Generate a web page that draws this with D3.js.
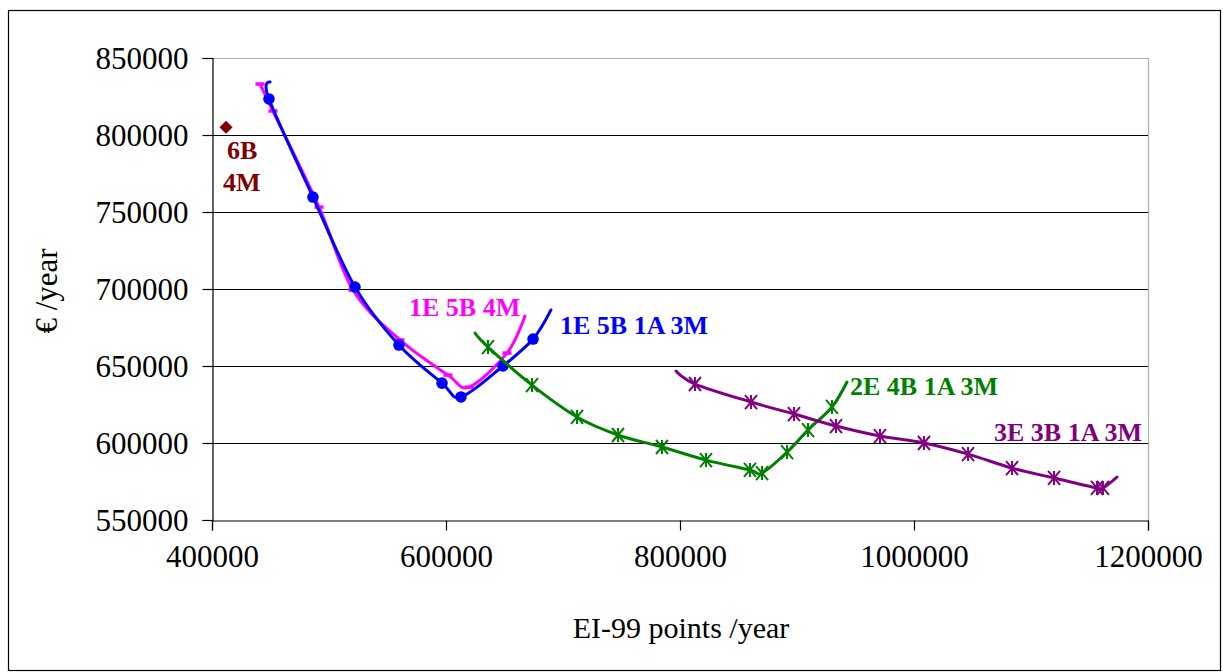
<!DOCTYPE html>
<html>
<head>
<meta charset="utf-8">
<script src="https://cdn.jsdelivr.net/npm/d3@7"></script>
<style>
  html, body { margin: 0; padding: 0; background: #fff; }
  svg { display: block; }
</style>
</head>
<body>
<svg id="chart" width="1223" height="672"></svg>
<script>
// ---- data ----
const xTicks = [400000, 600000, 800000, 1000000, 1200000];
const yTicks = [550000, 600000, 650000, 700000, 750000, 800000, 850000];

// 1E 5B 1A 3M
const blueX = [449600, 448700, 486300, 522200, 559800, 596600, 612800, 648700, 674400, 689700];
const blueY = [834400, 823400, 759700, 701300, 663600, 638900, 629900, 650000, 667500, 686400];
const blueMarked = [false, true, true, true, true, true, true, true, true, false];

// 1E 5B 4M
const pinkX = [441000, 452100, 491500, 520500, 560700, 601700, 619700, 652100, 667500];
const pinkY = [833100, 815600, 753200, 699300, 666900, 644100, 636300, 658400, 682500];
const pinkMarked = [true, true, true, true, true, true, true, true, false];

// 2E 4B 1A 3M
const greenX = [624800, 635900, 673500, 712000, 747000, 784600, 822200, 859800, 870100, 891500, 909400, 929900, 942700];
const greenY = [671400, 662300, 637600, 616900, 605200, 597400, 588900, 582500, 580500, 594100, 608400, 623400, 639600];
const greenMarked = [false, true, true, true, true, true, true, true, true, true, true, true, false];

// 3E 3B 1A 3M
const purpleX = [796600, 812800, 860700, 897400, 933300, 970900, 1008500, 1046200, 1083800, 1119700, 1156400, 1161500, 1173500];
const purpleY = [646700, 638300, 626600, 618800, 611000, 604500, 600000, 592800, 583700, 577300, 570800, 570800, 577900];
const purpleMarked = [false, true, true, true, true, true, true, true, true, true, true, true, false];

// 6B 4M (single configuration)
const singleX = [412000];
const singleY = [805000];

const seriesNames = ["1E 5B 1A 3M", "1E 5B 4M", "2E 4B 1A 3M", "3E 3B 1A 3M"];
const singleLabel = ["6B", "4M"];
const xTitle = "EI-99 points /year";
const yTitle = "€ /year";

const SERIF = "Liberation Serif, Times New Roman, serif";

// ---- layout ----
const svg = d3.select("#chart").attr("font-family", SERIF);
const plot = { left: 212, right: 1148, top: 58, bottom: 520 };

const x = d3.scaleLinear().domain([400000, 1200000]).range([plot.left, plot.right]);
const y = d3.scaleLinear().domain([550000, 850000]).range([plot.bottom, plot.top]);

// outer frame
svg.append("rect")
  .attr("x", 8.5).attr("y", 10.5)
  .attr("width", 1212).attr("height", 660)
  .attr("fill", "#fff").attr("stroke", "#000").attr("stroke-width", 1.2);

// horizontal gridlines
svg.append("g")
  .selectAll("line")
  .data(yTicks.filter(d => d !== 550000 && d !== 850000))
  .join("line")
  .attr("x1", plot.left).attr("x2", plot.right)
  .attr("y1", d => Math.round(y(d)) + 0.5).attr("y2", d => Math.round(y(d)) + 0.5)
  .attr("stroke", "#000").attr("stroke-width", 1);

// plot area border (top/right)
svg.append("path")
  .attr("d", `M${plot.left},${plot.top + 0.5}H${plot.right + 0.5}V${plot.bottom}`)
  .attr("fill", "none").attr("stroke", "#b0b0b0").attr("stroke-width", 1.2);

// axes
const xAxis = d3.axisBottom(x).tickValues(xTicks).tickSize(10).tickPadding(14)
  .tickFormat(d3.format("d"));
const yAxis = d3.axisLeft(y).tickValues(yTicks).tickSize(10).tickPadding(14)
  .tickFormat(d3.format("d"));

const gx = svg.append("g").attr("transform", `translate(0,${plot.bottom + 0.5})`).call(xAxis);
const gy = svg.append("g").attr("transform", `translate(${plot.left + 0.5},0)`).call(yAxis);

[gx, gy].forEach(g => {
  g.attr("font-family", SERIF);
  g.select(".domain").attr("stroke", "#000").attr("stroke-width", 1.2);
  g.selectAll(".tick line").attr("stroke", "#000").attr("stroke-width", 1.2);
  g.selectAll(".tick text")
    .attr("font-family", SERIF)
    .attr("font-size", 31).attr("fill", "#000");
});
gx.selectAll(".tick text").attr("dy", "0.71em");
gy.selectAll(".tick text").attr("dy", "0.34em");

// axis titles
svg.append("text")
  .attr("x", 681).attr("y", 638)
  .attr("text-anchor", "middle")
  .attr("font-family", SERIF)
  .attr("font-size", 30).attr("fill", "#000")
  .text(xTitle);

svg.append("text")
  .attr("transform", "translate(57,291) rotate(-90)")
  .attr("text-anchor", "middle")
  .attr("font-family", SERIF)
  .attr("font-size", 31).attr("fill", "#000")
  .text(yTitle);

// ---- series ----
const line = d3.line().x(d => x(d.x)).y(d => y(d.y)).curve(d3.curveCardinal.tension(0));

function pts(xs, ys, marked) {
  return xs.map((v, i) => ({ x: v, y: ys[i], m: marked[i] }));
}

const series = [
  { name: seriesNames[1], color: "#ff00ff", marker: "dash",     data: pts(pinkX, pinkY, pinkMarked) },
  { name: seriesNames[0], color: "#0000ff", marker: "circle",   data: pts(blueX, blueY, blueMarked) },
  { name: seriesNames[2], color: "#008000", marker: "asterisk", data: pts(greenX, greenY, greenMarked) },
  { name: seriesNames[3], color: "#800080", marker: "asterisk", data: pts(purpleX, purpleY, purpleMarked) }
];

const gSeries = svg.append("g");
series.forEach(s => {
  const g = gSeries.append("g");
  g.append("path")
    .attr("d", line(s.data))
    .attr("fill", "none").attr("stroke", s.color).attr("stroke-width", 3)
    .attr("stroke-linejoin", "round").attr("stroke-linecap", "round");

  const mk = g.selectAll("g.mk").data(s.data.filter(d => d.m)).join("g")
    .attr("class", "mk")
    .attr("transform", d => `translate(${x(d.x)},${y(d.y)})`);

  if (s.marker === "circle") {
    mk.append("circle").attr("r", 5.8).attr("fill", s.color);
  } else if (s.marker === "dash") {
    mk.append("line").attr("x1", -4.5).attr("x2", 4.5).attr("y1", 0).attr("y2", 0)
      .attr("stroke", s.color).attr("stroke-width", 3.5);
  } else {
    const r = 7, dx = 6, dy = 7;
    mk.append("path")
      .attr("d", `M0,${-r}V${r}M${-dx},${-dy}L${dx},${dy}M${dx},${-dy}L${-dx},${dy}`)
      .attr("stroke", s.color).attr("stroke-width", 2).attr("fill", "none");
  }
});

// single configuration point (diamond)
svg.append("g").selectAll("path")
  .data(singleX.map((v, i) => ({ x: v, y: singleY[i] })))
  .join("path")
  .attr("d", d3.symbol().type(d3.symbolDiamond2).size(110))
  .attr("transform", d => `translate(${x(d.x)},${y(d.y)})`)
  .attr("fill", "#800000");

// ---- series labels ----
const labels = [
  { text: seriesNames[1], color: "#ff00ff", x: 409, y: 316 },
  { text: seriesNames[0], color: "#0000ff", x: 560, y: 334 },
  { text: seriesNames[2], color: "#008000", x: 850, y: 395 },
  { text: seriesNames[3], color: "#800080", x: 994, y: 441 },
  { text: singleLabel[0], color: "#800000", x: 227, y: 159 },
  { text: singleLabel[1], color: "#800000", x: 223, y: 191 }
];
svg.append("g").selectAll("text").data(labels).join("text")
  .attr("x", d => d.x).attr("y", d => d.y)
  .attr("font-family", SERIF)
  .attr("font-size", 26).attr("font-weight", "bold")
  .attr("fill", d => d.color)
  .text(d => d.text);
</script>
</body>
</html>
